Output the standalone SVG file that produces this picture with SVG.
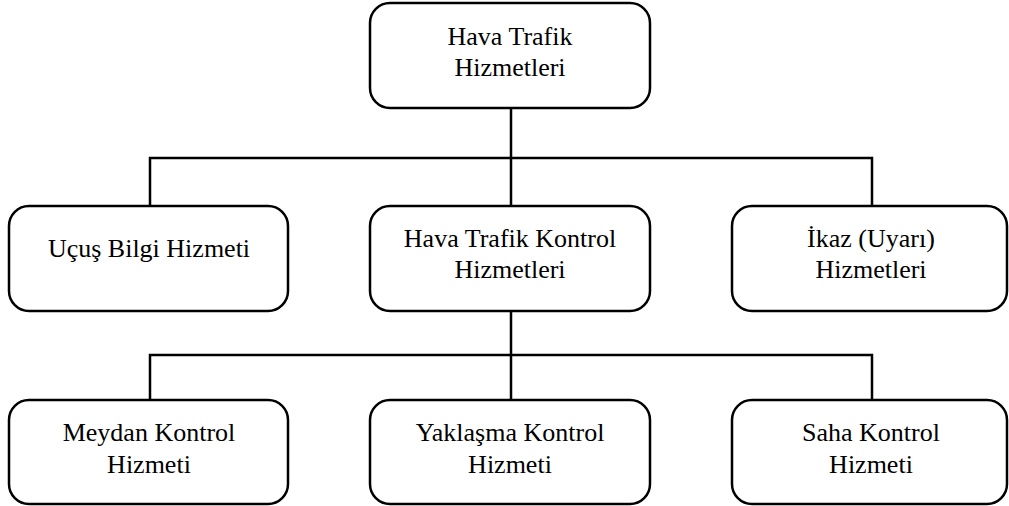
<svg xmlns="http://www.w3.org/2000/svg" width="1009" height="506" viewBox="0 0 1009 506">
  <defs>
    <style>
      .box { fill: #ffffff; stroke: #000000; stroke-width: 2.5; }
      .link { fill: none; stroke: #000000; stroke-width: 2.5; }
    </style>
  </defs>
  <rect width="1009" height="506" fill="#ffffff"/>
  <g id="connectors">
    <path class="link" d="M511 108 V206 M150 206 V158 H872 V206"/>
    <path class="link" d="M511 311 V400 M150 400 V355 H872 V400"/>
  </g>
  <g id="hava-trafik-hizmetleri">
    <rect class="box" x="370" y="3" width="280" height="105" rx="20"/>
    <text x="510" y="45" font-family="Liberation Serif" font-size="26" text-anchor="middle">Hava Trafik</text>
    <text x="510" y="76" font-family="Liberation Serif" font-size="26" text-anchor="middle">Hizmetleri</text>
  </g>
  <g id="ucus-bilgi-hizmeti">
    <rect class="box" x="9" y="206" width="279" height="105" rx="20"/>
    <text x="149" y="257" font-family="Liberation Serif" font-size="26" text-anchor="middle">Uçuş Bilgi Hizmeti</text>
  </g>
  <g id="hava-trafik-kontrol-hizmetleri">
    <rect class="box" x="370" y="206" width="280" height="105" rx="20"/>
    <text x="510" y="247" font-family="Liberation Serif" font-size="26" text-anchor="middle">Hava Trafik Kontrol</text>
    <text x="510" y="278" font-family="Liberation Serif" font-size="26" text-anchor="middle">Hizmetleri</text>
  </g>
  <g id="ikaz-hizmetleri">
    <rect class="box" x="732" y="206" width="275" height="105" rx="20"/>
    <text x="871" y="247" font-family="Liberation Serif" font-size="26" text-anchor="middle">İkaz (Uyarı)</text>
    <text x="871" y="278" font-family="Liberation Serif" font-size="26" text-anchor="middle">Hizmetleri</text>
  </g>
  <g id="meydan-kontrol-hizmeti">
    <rect class="box" x="9" y="400" width="279" height="104" rx="20"/>
    <text x="149" y="441" font-family="Liberation Serif" font-size="26" text-anchor="middle">Meydan Kontrol</text>
    <text x="149" y="473" font-family="Liberation Serif" font-size="26" text-anchor="middle">Hizmeti</text>
  </g>
  <g id="yaklasma-kontrol-hizmeti">
    <rect class="box" x="370" y="400" width="280" height="104" rx="20"/>
    <text x="510" y="441" font-family="Liberation Serif" font-size="26" text-anchor="middle">Yaklaşma Kontrol</text>
    <text x="510" y="473" font-family="Liberation Serif" font-size="26" text-anchor="middle">Hizmeti</text>
  </g>
  <g id="saha-kontrol-hizmeti">
    <rect class="box" x="732" y="400" width="275" height="104" rx="20"/>
    <text x="871" y="441" font-family="Liberation Serif" font-size="26" text-anchor="middle">Saha Kontrol</text>
    <text x="871" y="473" font-family="Liberation Serif" font-size="26" text-anchor="middle">Hizmeti</text>
  </g>
</svg>
